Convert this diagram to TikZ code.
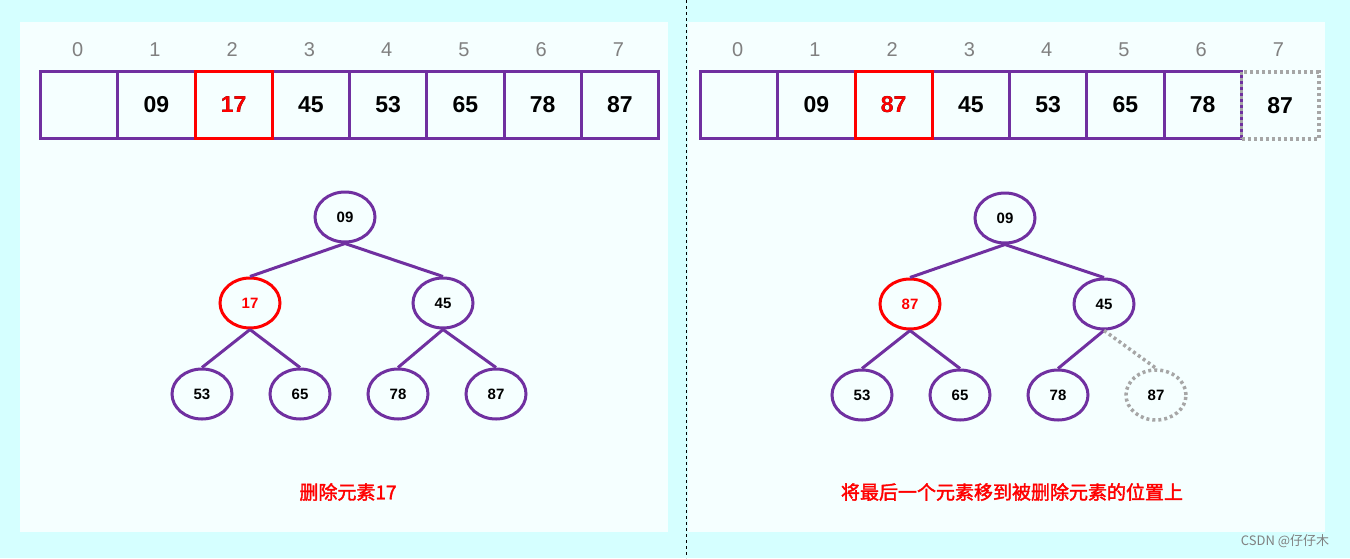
\documentclass[tikz,border=0pt]{standalone}
\usepackage{fontspec}
\usetikzlibrary{shapes.geometric}
\setmainfont{Liberation Sans}
\newfontfamily\cjk{Noto Sans CJK SC}[AutoFakeBold=2]
\definecolor{bgc}{HTML}{D5FFFF}
\definecolor{panel}{HTML}{F5FFFF}
\definecolor{pur}{HTML}{7030A0}
\definecolor{gr}{HTML}{A6A6A6}
\begin{document}
\begin{tikzpicture}[x=1pt,y=-1pt,
  cell/.style={draw=pur,line width=3pt,minimum width=77.25pt,minimum height=67pt,inner sep=0pt,font=\bfseries\fontsize{23}{23}\selectfont,anchor=north west},
  idx/.style={text=gray,font=\fontsize{20}{20}\selectfont},
  tn/.style={ellipse,draw=pur,line width=3pt,minimum width=60pt,minimum height=50pt,inner sep=0pt,font=\bfseries\fontsize{15}{15}\selectfont},
  ed/.style={draw=pur,line width=3pt},
  captxt/.style={text=red,font=\cjk\bfseries\fontsize{19}{19}\selectfont}]
\fill[bgc] (0,0) rectangle (1350,558);
\useasboundingbox (0,0) rectangle (1350,558);
\fill[panel] (20,22) rectangle (668,532);
\fill[panel] (688,22) rectangle (1325,532);
\draw[dashed,line width=0.5pt] (686,0) -- (686,558);
% left array
\foreach \i/\v in {0/,1/09,2/17,3/45,4/53,5/65,6/78,7/87}{
  \node[idx] (li\i) at (39+77.25*\i+38.6,50) {\i};
  \node[cell] (lc\i) at (39+77.25*\i,70) {\v};
}
\node[cell,draw=red,text=red] (lr2) at (39+77.25*2,70) {17};
% right array
\foreach \i/\v in {0/,1/09,2/87,3/45,4/53,5/65,6/78}{
  \node[idx] (ri\i) at (699+77.25*\i+38.6,50) {\i};
  \node[cell] (rc\i) at (699+77.25*\i,70) {\v};
}
\node[cell,draw=red,text=red] (rr2) at (699+77.25*2,70) {87};
\node[idx] (ri7) at (699+77.25*7+38.6,50) {7};
\node[cell,draw=gr,dash pattern=on 3pt off 3pt,line width=3.5pt] (rc7) at (699+77.25*7,70) {87};
% left tree
\node[tn] (a) at (345,217) {09};
\node[tn,draw=red,text=red] (b) at (250,303) {17};
\node[tn] (c) at (443,303) {45};
\node[tn] (d) at (202,394) {53};
\node[tn] (e) at (300,394) {65};
\node[tn] (f) at (398,394) {78};
\node[tn] (g) at (496,394) {87};
\draw[ed] (a.south) -- (b.north) (a.south) -- (c.north) (b.south) -- (d.north) (b.south) -- (e.north) (c.south) -- (f.north) (c.south) -- (g.north);
% right tree
\node[tn] (A) at (1005,218) {09};
\node[tn,draw=red,text=red] (B) at (910,304) {87};
\node[tn] (C) at (1104,304) {45};
\node[tn] (D) at (862,395) {53};
\node[tn] (E) at (960,395) {65};
\node[tn] (F) at (1058,395) {78};
\node[tn,draw=gr,dash pattern=on 3pt off 3pt,line width=3.5pt] (G) at (1156,395) {87};
\draw[ed] (A.south) -- (B.north) (A.south) -- (C.north) (B.south) -- (D.north) (B.south) -- (E.north) (C.south) -- (F.north);
\draw[gr,dash pattern=on 3pt off 3pt,line width=3.5pt] (C.south) -- (G.north);
\node[captxt] (t1) at (348,492) {删除元素17};
\node[captxt] (t2) at (1012,492) {将最后一个元素移到被删除元素的位置上};
\node[text=gray,font=\cjk\fontsize{13}{13}\selectfont] (wm) at (1285,541) {CSDN @仔仔木};
\end{tikzpicture}
\end{document}
